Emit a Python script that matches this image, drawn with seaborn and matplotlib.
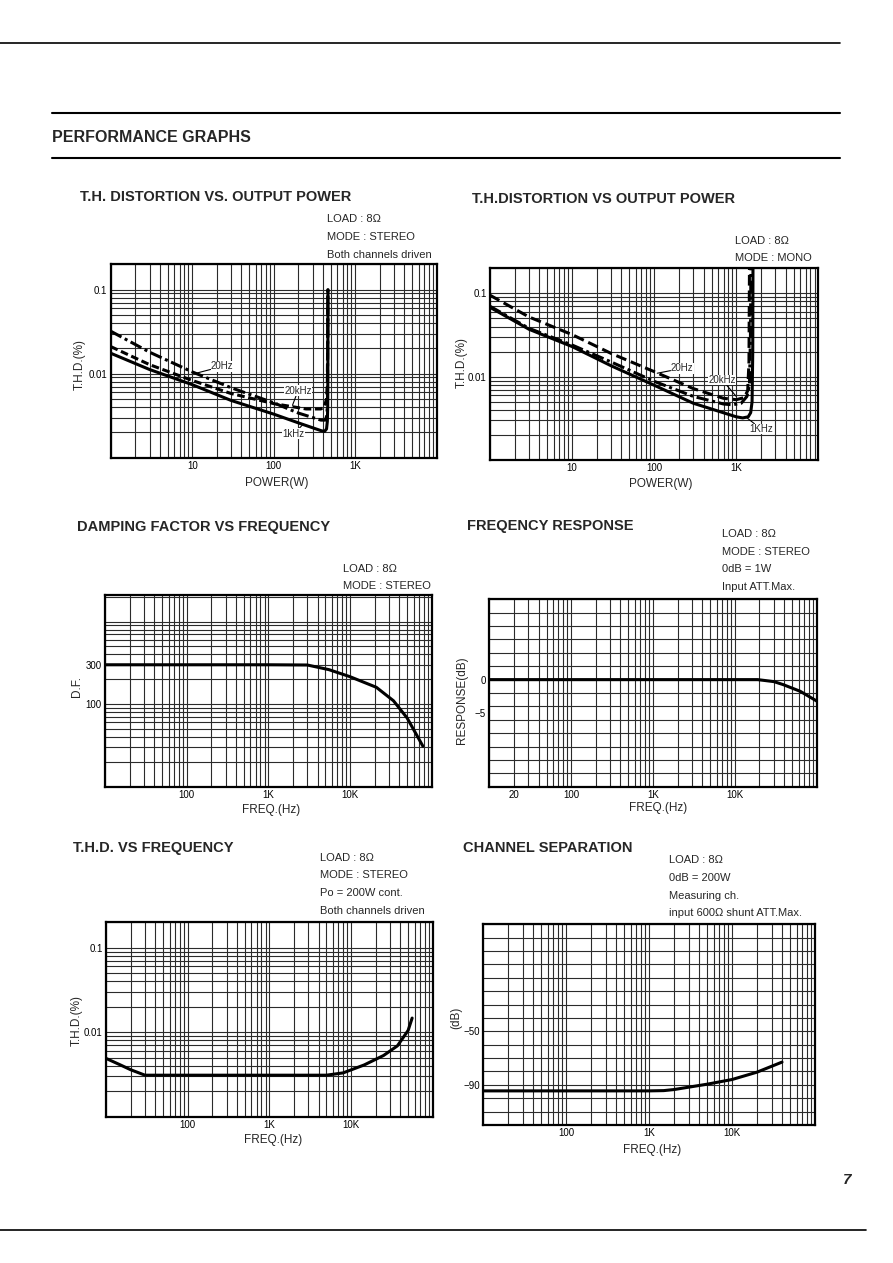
import numpy as np
import matplotlib
matplotlib.use("Agg")
import matplotlib.pyplot as plt
import seaborn as sns
from matplotlib.ticker import FixedLocator, FixedFormatter, LogLocator, MultipleLocator, NullFormatter
from matplotlib.lines import Line2D

# ---------------- data ----------------
# T.H. distortion vs output power, STEREO (power W, THD %)
st_1khz_w = [1, 3, 10, 30, 100, 200, 380, 420, 445, 455, 460, 462, 463]
st_1khz = [0.0175, 0.0112, 0.0074, 0.0048, 0.0033, 0.0026, 0.0021, 0.00205, 0.0022, 0.0027, 0.004, 0.01, 0.1]
st_20khz_w = [1, 3, 10, 30, 100, 250, 380, 420, 445, 455, 460, 462]
st_20khz = [0.021, 0.0128, 0.0083, 0.0058, 0.0044, 0.0038, 0.0038, 0.0041, 0.005, 0.008, 0.03, 0.1]
st_20hz_w = [1, 3, 10, 30, 100, 200, 380, 430, 450, 457, 460, 462]
st_20hz = [0.032, 0.018, 0.0105, 0.0068, 0.0045, 0.0034, 0.0028, 0.0028, 0.0032, 0.005, 0.02, 0.1]

# T.H. distortion vs output power, MONO
mo_1khz_w = [1, 3, 10, 30, 100, 300, 1000, 1200, 1400, 1500, 1560, 1590, 1600]
mo_1khz = [0.068, 0.037, 0.023, 0.0135, 0.0079, 0.0048, 0.0033, 0.0032, 0.0033, 0.0037, 0.005, 0.02, 0.2]
mo_20hz_w = [1, 3, 10, 30, 100, 300, 700, 1000, 1250, 1380, 1430, 1450]
mo_20hz = [0.095, 0.052, 0.032, 0.019, 0.0115, 0.0072, 0.0055, 0.0053, 0.0056, 0.0068, 0.015, 0.2]
mo_20khz_w = [1, 3, 10, 30, 100, 300, 700, 900, 1150, 1350, 1450, 1490, 1510]
mo_20khz = [0.07, 0.038, 0.024, 0.015, 0.0088, 0.0058, 0.0047, 0.0046, 0.0048, 0.0058, 0.008, 0.03, 0.2]

# Damping factor vs frequency
df_freq = [10, 100, 1000, 3000, 5500, 10000, 21000, 34000, 50000, 78000]
df_value = [300, 300, 300, 298, 262, 215, 160, 110, 68, 31]

# Frequency response
fr_freq = [10, 100, 1000, 10000, 19000, 30000, 39000, 63000, 100000]
fr_db = [0, 0, 0, 0, 0, -0.3, -0.75, -1.75, -3.2]

# T.H.D. vs frequency
tf_freq = [10, 15, 20, 30, 50, 100, 1000, 5000, 8000, 14500, 25000, 37000, 50000, 56000]
tf_value = [0.0049, 0.0041, 0.0036, 0.0031, 0.0031, 0.0031, 0.0031, 0.0031, 0.0033, 0.0041, 0.0053, 0.0069, 0.0105, 0.0147]

# Channel separation
cs_freq = [10, 100, 1000, 1500, 2000, 5000, 10000, 20000, 40000]
cs_db = [-94.5, -94.5, -94.5, -94.3, -93.5, -89.5, -86, -80.5, -73]

# tick labels
power_ticks = [10, 100, 1000]
power_labels = ["10", "100", "1K"]
freq_ticks = [100, 1000, 10000]
freq_labels = ["100", "1K", "10K"]
fr_ticks = [20, 100, 1000, 10000]
fr_labels = ["20", "100", "1K", "10K"]
thd_ticks = [0.01, 0.1]
thd_labels = ["0.01", "0.1"]
df_ticks = [100, 300]
df_labels = ["100", "300"]
resp_ticks = [-5, 0]
resp_labels = ["\u22125", "0"]
sep_ticks = [-90, -50]
sep_labels = ["\u221290", "\u221250"]

# ---------------- style ----------------
sns.set_theme(style="white")
plt.rcParams["font.family"] = ["Liberation Sans", "DejaVu Sans"]

W, H = 893, 1263
fig = plt.figure(figsize=(W / 100, H / 100), dpi=100)
fig.patch.set_facecolor("white")


def rect(l, t, r, b):
    return [l / W, 1 - b / H, (r - l) / W, (b - t) / H]


def fx(x):
    return x / W


def fy(y):
    return 1 - y / H


GRID = "#2b2b2b"
LW = 2.2


def setup(ax, xlim, ylim, xt, xl, yt, yl, ylog=True, ystep=None):
    ax.set_xscale("log")
    if ylog:
        ax.set_yscale("log")
    ax.set_xlim(*xlim)
    ax.set_ylim(*ylim)
    ax.xaxis.set_major_locator(FixedLocator(xt))
    ax.xaxis.set_major_formatter(FixedFormatter(xl))
    ax.xaxis.set_minor_locator(LogLocator(base=10, subs=np.arange(1, 10), numticks=200))
    ax.xaxis.set_minor_formatter(NullFormatter())
    ax.yaxis.set_major_locator(FixedLocator(yt))
    ax.yaxis.set_major_formatter(FixedFormatter(yl))
    if ylog:
        ax.yaxis.set_minor_locator(LogLocator(base=10, subs=np.arange(1, 10), numticks=200))
    else:
        ax.yaxis.set_minor_locator(MultipleLocator(ystep))
    ax.yaxis.set_minor_formatter(NullFormatter())
    ax.xaxis.remove_overlapping_locs = False
    ax.yaxis.remove_overlapping_locs = False
    ax.grid(False, which="major")
    ax.grid(True, which="minor", color=GRID, lw=0.8)
    ax.set_axisbelow(True)
    ax.tick_params(which="both", length=0, labelsize=7, pad=2.5, colors="black")
    for s in ax.spines.values():
        s.set_visible(True)
        s.set_color("black")
        s.set_linewidth(1.6)
    ax.set_facecolor("white")


def labels(ax, box, xlabel, xpos, ylabel, ypos):
    l, t, r, b = box
    ax.set_xlabel(xlabel, fontsize=8.5, va="center", ha="center")
    ax.xaxis.set_label_coords((xpos[0] - l) / (r - l), (b - xpos[1]) / (b - t))
    ax.set_ylabel(ylabel, fontsize=8.5, va="center", ha="center")
    ax.yaxis.set_label_coords((ypos[0] - l) / (r - l), (b - ypos[1]) / (b - t))


def title(x, y, s):
    fig.text(fx(x), fy(y), s, fontsize=10.5, fontweight="bold", ha="left", va="center")


def note(x, ys, lines):
    for y, s in zip(ys, lines):
        fig.text(fx(x), fy(y), s, fontsize=8, ha="left", va="center")


def curve(ax, x, y, ls="-"):
    sns.lineplot(x=x, y=y, ax=ax, color="black", lw=LW, sort=False,
                 estimator=None, linestyle=ls)


def tag(ax, s, xy, xytext):
    ax.annotate(s, xy=xy, xytext=xytext, textcoords="data", fontsize=7,
                ha="left", va="center",
                bbox=dict(fc="white", ec="none", pad=0.3),
                arrowprops=dict(arrowstyle="-", color="black", lw=0.8,
                                shrinkA=0, shrinkB=0))


DASH = (0, (2.5, 1.2))
DASHDOT = (0, (4, 1.2, 1, 1.2))
LONGDASH = (0, (3.5, 1.6))

# ---------------- page decorations ----------------
for (x0, x1, y, lw) in [(0, 840, 42.7, 1.2), (52, 840, 113, 1.5), (52, 840, 157.5, 1.5), (0, 866, 1230, 1.2)]:
    fig.add_artist(Line2D([fx(x0), fx(x1)], [fy(y), fy(y)], color="black", lw=lw))
fig.text(fx(52), fy(137.5), "PERFORMANCE GRAPHS", fontsize=11.5, fontweight="bold",
         ha="left", va="center")
fig.text(fx(843), fy(1180), "7", fontsize=11, fontweight="bold", fontstyle="italic",
         ha="left", va="center")

# ---------------- chart 1 ----------------
b1 = (110.7, 264.3, 436.7, 457.7)
ax1 = fig.add_axes(rect(*b1))
curve(ax1, st_1khz_w, st_1khz, "-")
curve(ax1, st_20khz_w, st_20khz, DASH)
curve(ax1, st_20hz_w, st_20hz, DASHDOT)
setup(ax1, (1, 10000), (0.001, 0.2), power_ticks, power_labels, thd_ticks, thd_labels)
labels(ax1, b1, "POWER(W)", (276.7, 483.3), "T.H.D.(%)", (80, 365))
tag(ax1, "20Hz", (11.1, 0.0101), (17, 0.0122))
tag(ax1, "20kHz", (170, 0.0042), (135, 0.0063))
tag(ax1, "1kHz", (230, 0.0025), (129, 0.00192))
title(80, 196.7, "T.H. DISTORTION VS. OUTPUT POWER")
note(327, [219.3, 237.3, 255], ["LOAD : 8\u03a9", "MODE : STEREO", "Both channels driven"])

# ---------------- chart 2 ----------------
b2 = (490, 268.3, 818.3, 460)
ax2 = fig.add_axes(rect(*b2))
curve(ax2, mo_1khz_w, mo_1khz, "-")
curve(ax2, mo_20hz_w, mo_20hz, LONGDASH)
curve(ax2, mo_20khz_w, mo_20khz, DASHDOT)
setup(ax2, (1, 10000), (0.001, 0.2), power_ticks, power_labels, thd_ticks, thd_labels)
labels(ax2, b2, "POWER(W)", (660.7, 484), "T.H.D.(%)", (461.7, 363))
tag(ax2, "20Hz", (109, 0.011), (160, 0.0126))
tag(ax2, "20kHz", (1000, 0.0058), (460, 0.0091))
tag(ax2, "1KHz", (1300, 0.0033), (1450, 0.00235))
title(471.7, 199.3, "T.H.DISTORTION VS OUTPUT POWER")
note(735, [240.7, 257.7], ["LOAD : 8\u03a9", "MODE : MONO"])

# ---------------- chart 3 ----------------
b3 = (105, 595, 431.7, 786.7)
ax3 = fig.add_axes(rect(*b3))
curve(ax3, df_freq, df_value, "-")
setup(ax3, (10, 100000), (10, 2100), freq_ticks, freq_labels, df_ticks, df_labels)
labels(ax3, b3, "FREQ.(Hz)", (270.7, 810), "D.F.", (76.7, 686.7))
title(76.7, 526.7, "DAMPING FACTOR VS FREQUENCY")
note(343.3, [569.3, 586], ["LOAD : 8\u03a9", "MODE : STEREO"])

# ---------------- chart 4 ----------------
b4 = (489.3, 599.3, 816.7, 786.7)
ax4 = fig.add_axes(rect(*b4))
curve(ax4, fr_freq, fr_db, "-")
setup(ax4, (10, 100000), (-16, 12), fr_ticks, fr_labels, resp_ticks, resp_labels,
      ylog=False, ystep=2)
labels(ax4, b4, "FREQ.(Hz)", (658.3, 808.3), "RESPONSE(dB)", (461.7, 700))
title(466.7, 526, "FREQENCY RESPONSE")
note(721.7, [534.3, 551.7, 569.3, 586.7],
     ["LOAD : 8\u03a9", "MODE : STEREO", "0dB = 1W", "Input ATT.Max."])

# ---------------- chart 5 ----------------
b5 = (106, 922.3, 432.7, 1116.7)
ax5 = fig.add_axes(rect(*b5))
curve(ax5, tf_freq, tf_value, "-")
setup(ax5, (10, 100000), (0.001, 0.2), freq_ticks, freq_labels, thd_ticks, thd_labels)
labels(ax5, b5, "FREQ.(Hz)", (273.3, 1140), "T.H.D.(%)", (76.7, 1020))
title(73.3, 848.3, "T.H.D. VS FREQUENCY")
note(320, [857.7, 875, 893.3, 911],
     ["LOAD : 8\u03a9", "MODE : STEREO", "Po = 200W cont.", "Both channels driven"])

# ---------------- chart 6 ----------------
b6 = (483.3, 924.3, 815, 1125)
ax6 = fig.add_axes(rect(*b6))
curve(ax6, cs_freq, cs_db, "-")
setup(ax6, (10, 100000), (-120, 30), freq_ticks, freq_labels, sep_ticks, sep_labels,
      ylog=False, ystep=10)
labels(ax6, b6, "FREQ.(Hz)", (652.3, 1150), "(dB)", (456.7, 1017.5))
title(463.3, 848.3, "CHANNEL SEPARATION")
note(669.3, [860, 877.7, 895.7, 913.3],
     ["LOAD : 8\u03a9", "0dB = 200W", "Measuring ch.", "input 600\u03a9 shunt ATT.Max."])

fig.savefig("out.png", dpi=100, facecolor="white")
